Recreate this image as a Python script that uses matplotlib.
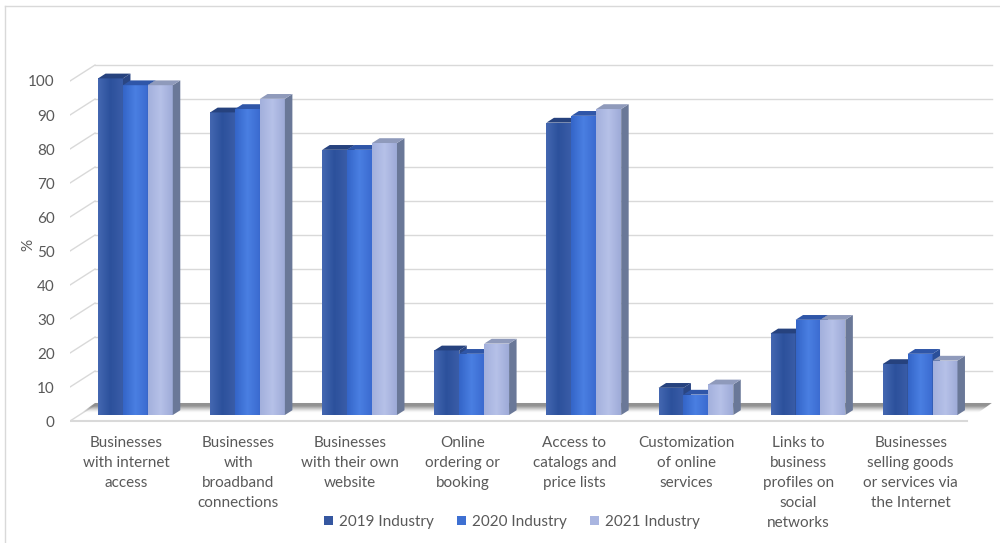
import numpy as np
import matplotlib
matplotlib.use("Agg")
import matplotlib.pyplot as plt
from matplotlib.patches import Polygon, Patch
from matplotlib.colors import to_rgb
from matplotlib.lines import Line2D

plt.rcParams["font.family"] = ["Lato", "DejaVu Sans"]

# Survey results, % of enterprises
categories = [
    "Businesses\nwith internet\naccess",
    "Businesses\nwith\nbroadband\nconnections",
    "Businesses\nwith their own\nwebsite",
    "Online\nordering or\nbooking",
    "Access to\ncatalogs and\nprice lists",
    "Customization\nof online\nservices",
    "Links to\nbusiness\nprofiles on\nsocial\nnetworks",
    "Businesses\nselling goods\nor services via\nthe Internet",
]
series_names = ["2019 Industry", "2020 Industry", "2021 Industry"]
values_2019 = [99, 89, 78, 19, 86, 8, 24, 15]
values_2020 = [97, 90, 78, 18, 88, 6, 28, 18]
values_2021 = [97, 93, 80, 21, 90, 9, 28, 16]
yticks = list(range(0, 101, 10))

# front-face gradient (left, middle, right), side face, top face
styles = [
    (["#4467b1", "#2c519c", "#3a5da8"], "#2a4684", "#26427e"),
    (["#3465c8", "#4a7fe2", "#3b6bd0"], "#2b4f99", "#2f56a8"),
    (["#a3b0dc", "#b6c1e8", "#9eabd8"], "#6a7898", "#8f9abb"),
]
legend_colors = ["#3557a0", "#3e70d2", "#a9b5e0"]

text_color = "#595959"
grid_color = "#d9d9d9"
fs = 11

# oblique projection: back wall offset and bar depth in data units
wall_dx, wall_dy = 0.223, 4.7
bar_front = 0.375
bar_depth = 0.30
bar_w = 1 / 4.5

fig = plt.figure(figsize=(10, 5.43), dpi=100)
ax = fig.add_axes([0.07, 0.2184, 0.9248, 0.670])
ax.set_xlim(-0.5, 7.75)
ax.set_ylim(-1, 106)
for s in ax.spines.values():
    s.set_visible(False)

n = len(categories)
x = np.arange(n)
x_end = n - 0.5 + wall_dx

# back wall gridlines and the diagonal ticks down to the front axis
for v in yticks[1:]:
    ax.plot([-0.5 + wall_dx, x_end], [v + wall_dy, v + wall_dy], color=grid_color, lw=1, zorder=1)
for v in yticks:
    ax.plot([-0.5, -0.5 + wall_dx], [v, v + wall_dy], color=grid_color, lw=1, zorder=1)

# floor with a dark shadow along its back edge
floor = Polygon([(-0.5, 0), (n - 0.5, 0), (x_end, wall_dy + 0.6),
                 (-0.5 + wall_dx, wall_dy + 0.6)], closed=True, facecolor="none",
                edgecolor="none")
ax.add_patch(floor)
ys = np.linspace(0, 1, 60)[:, None]
shade = np.clip((ys - 0.45) / 0.35, 0, 1) ** 1.3
img = np.ones((60, 2, 4))
img[..., :3] = 0.5
img[..., 3] = shade * 0.85
im = ax.imshow(img, extent=(-0.5, x_end, 0, wall_dy + 0.6), origin="lower",
               aspect="auto", zorder=2, interpolation="bilinear")
im.set_clip_path(floor)
ax.plot([-0.5, n - 0.5], [0, 0], color=grid_color, lw=1.5, zorder=2)

# bars
fx, fy = bar_front * wall_dx, bar_front * wall_dy
sx, sy = bar_depth * wall_dx, bar_depth * wall_dy
all_values = [values_2019, values_2020, values_2021]
for i in range(n):
    for k, vals in enumerate(all_values):
        grad, side_c, top_c = styles[k]
        v = vals[i]
        left = x[i] + (k - 1.5) * bar_w + fx
        right = left + bar_w
        bottom = fy
        top = fy + v
        rect = ax.bar(left, v, width=bar_w, bottom=bottom, align="edge",
                      color=grad[1], linewidth=0, zorder=3)[0]
        stops = np.array([to_rgb(c) for c in grad])
        t = np.linspace(0, 1, 40)
        row = np.stack([np.interp(t, [0, 0.5, 1], stops[:, j]) for j in range(3)], axis=1)
        g = ax.imshow(row[None, :, :], extent=(left, right, bottom, top), aspect="auto",
                      zorder=3, interpolation="bilinear")
        g.set_clip_path(rect)
        ax.add_patch(Polygon([(right, bottom), (right + sx, bottom + sy),
                              (right + sx, top + sy), (right, top)],
                             closed=True, facecolor=side_c, edgecolor="none", zorder=3))
        ax.add_patch(Polygon([(left, top), (right, top), (right + sx, top + sy),
                              (left + sx, top + sy)],
                             closed=True, facecolor=top_c, edgecolor="none", zorder=3))

ax.set_xlim(-0.5, 7.75)
ax.set_ylim(-1, 106)

ax.set_yticks(yticks)
ax.set_yticklabels([str(v) for v in yticks])
ax.set_xticks(x)
ax.set_xticklabels(categories, linespacing=1.55)
ax.tick_params(axis="y", length=0, pad=11, labelsize=fs, labelcolor=text_color)
ax.tick_params(axis="x", length=0, pad=8, labelsize=fs, labelcolor=text_color)

fig.text(0.028, 1 - 245 / 543, "%", rotation=90, ha="center", va="center",
         fontsize=fs, color=text_color)

handles = [Patch(facecolor=c, edgecolor="none") for c in legend_colors]
fig.legend(handles, series_names, loc="center", bbox_to_anchor=(0.512, 1 - 522 / 543),
           ncol=3, frameon=False, fontsize=fs, labelcolor=text_color,
           handlelength=0.55, handleheight=0.55, handletextpad=0.4, columnspacing=1.55)

# chart frame (left and top edges)
fig.add_artist(Line2D([0.005, 0.005], [0, 1 - 6 / 543], color=grid_color, lw=1))
fig.add_artist(Line2D([0.005, 1], [1 - 6 / 543, 1 - 6 / 543], color=grid_color, lw=1))

fig.savefig("out.png", dpi=100, facecolor="white")
